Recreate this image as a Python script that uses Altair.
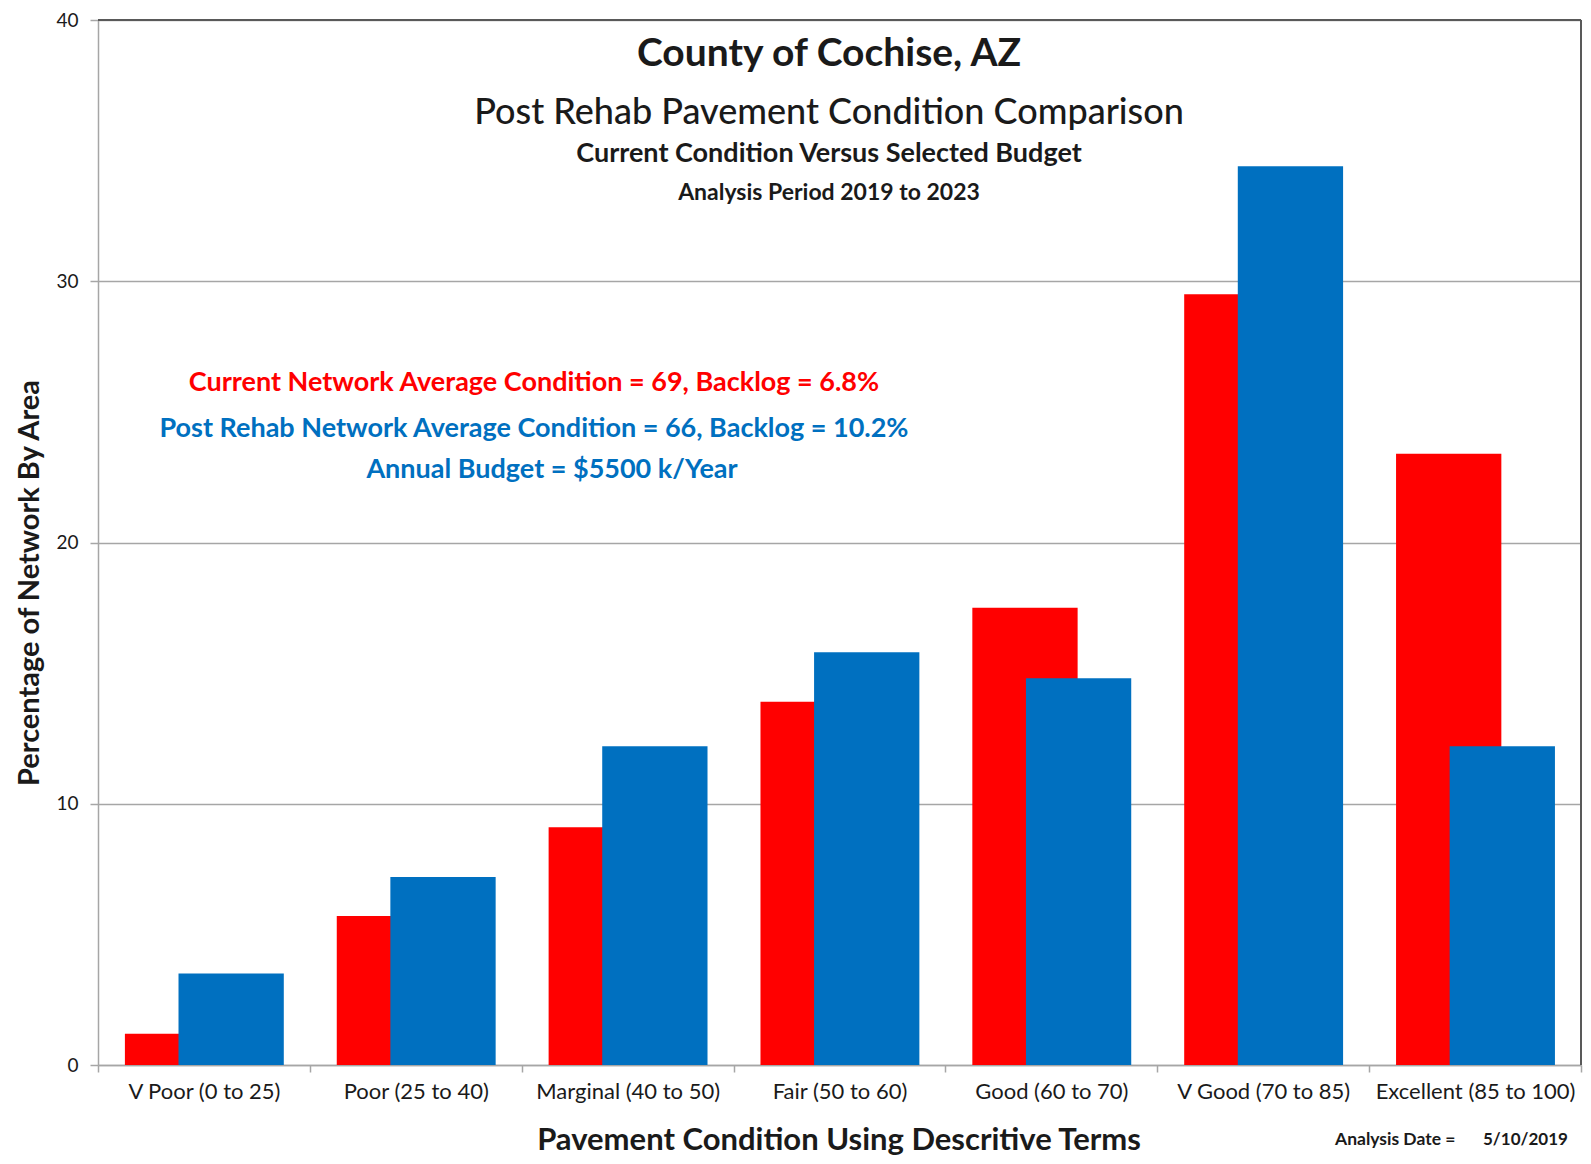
import altair as alt
import pandas as pd

categories = ["V Poor (0 to 25)", "Poor (25 to 40)", "Marginal (40 to 50)", "Fair (50 to 60)",
              "Good (60 to 70)", "V Good (70 to 85)", "Excellent (85 to 100)"]
current = [1.2, 5.7, 9.1, 13.9, 17.5, 29.5, 23.4]
post_rehab = [3.5, 7.2, 12.2, 15.8, 14.8, 34.4, 12.2]
y_ticks = [0, 10, 20, 30, 40]

title_lines = ["County of Cochise, AZ", "Post Rehab Pavement Condition Comparison",
               "Current Condition Versus Selected Budget", "Analysis Period 2019 to 2023"]
note_current = "Current Network Average Condition  = 69, Backlog = 6.8%"
note_post = "Post Rehab Network Average Condition = 66, Backlog = 10.2%"
note_budget = "Annual Budget = $5500 k/Year"
x_title = "Pavement Condition Using Descritive Terms"
y_title = "Percentage of Network By Area"
date_label = "Analysis Date ="
date_value = "5/10/2019"

FONT = "Lato"
RED = "#FF0000"
BLUE = "#0070C0"
GRID = "#a6a6a6"
TXT = "#1a1a1a"
BAR_W = 0.497
RED_START = 0.127
BLUE_START = 0.38
W, H = 1483, 1045

n = len(categories)
df = pd.DataFrame({"idx": list(range(n)), "category": categories,
                   "current": current, "post": post_rehab})

xscale = alt.Scale(domain=[0, n], nice=False, zero=False, padding=0)
yscale = alt.Scale(domain=[0, 40], nice=False, padding=0)

label_js = "[" + ",".join("'" + c + "'" for c in categories) + "]"
x_axis = alt.Axis(
    values=[i * 0.5 for i in range(2 * n + 1)],
    labelExpr=f"datum.value % 1 === 0 ? '' : {label_js}[floor(datum.value)]",
    tickOpacity={"condition": {"test": "datum.value % 1 === 0", "value": 1}, "value": 0},
    title=None, grid=False, domainColor=GRID, domainWidth=1.5, tickColor=GRID,
    tickWidth=1.5, tickSize=7, labelFont=FONT, labelFontSize=22, labelColor=TXT,
    labelPadding=9, labelOverlap=False, labelFlush=False, labelLimit=0,
)
y_axis = alt.Axis(
    values=y_ticks, title=None, grid=True, gridColor=GRID, gridWidth=1.5,
    domainColor=GRID, domainWidth=1.5, tickColor=GRID, tickWidth=1.5, tickSize=8,
    labelFont=FONT, labelFontSize=19, labelColor=TXT, labelPadding=12,
)

red = alt.Chart(df).transform_calculate(
    x0=f"datum.idx + {RED_START}", x1=f"datum.idx + {RED_START + BAR_W}"
).mark_bar(color=RED).encode(
    x=alt.X("x0:Q", scale=xscale, axis=x_axis), x2="x1:Q",
    y=alt.Y("current:Q", scale=yscale, axis=y_axis), y2=alt.datum(0),
)
blue = alt.Chart(df).transform_calculate(
    x0=f"datum.idx + {BLUE_START}", x1=f"datum.idx + {BLUE_START + BAR_W}"
).mark_bar(color=BLUE).encode(
    x=alt.X("x0:Q", scale=xscale, axis=x_axis), x2="x1:Q",
    y=alt.Y("post:Q", scale=yscale, axis=y_axis), y2=alt.datum(0),
)

top_rule = alt.Chart(pd.DataFrame({"v": [y_ticks[-1]]})).mark_rule(
    color="#595959", strokeWidth=2
).encode(y=alt.Y("v:Q", scale=yscale, axis=y_axis))
right_rule = alt.Chart(pd.DataFrame({"v": [n]})).mark_rule(
    color="#595959", strokeWidth=2
).encode(x=alt.X("v:Q", scale=xscale, axis=x_axis))


def label(text, x, y, size, color=TXT, weight="bold", align="center", angle=0):
    return alt.Chart(pd.DataFrame({"t": [text]})).mark_text(
        font=FONT, fontSize=size, fontWeight=weight, color=color, align=align,
        baseline="middle", angle=angle,
    ).encode(x=alt.value(x), y=alt.value(y), text="t:N")


texts = [
    label(title_lines[0], 731, 34, 39),
    label(title_lines[1], 731, 93, 36, weight=500),
    label(title_lines[2], 731, 134, 27),
    label(title_lines[3], 731, 173, 23),
    label(note_current, 436, 363, 27, color=RED),
    label(note_post, 436, 409, 27, color=BLUE),
    label(note_budget, 454, 450, 27, color=BLUE),
    label(y_title, -68, 563, 29, angle=270),
    label(x_title, 741, 1121, 31),
    label(date_label, 1237, 1120, 17.5, align="left"),
    label(date_value, 1385, 1120, 17, align="left"),
]

chart = alt.layer(red, blue, top_rule, right_rule, *texts).properties(
    width=W, height=H,
    autosize=alt.AutoSizeParams(type="none"),
    padding={"left": 90, "top": 12, "right": 2, "bottom": 91},
    background="white",
).configure_view(stroke="transparent")

chart.save("out.html", embed_options={"renderer": "svg", "actions": False})
